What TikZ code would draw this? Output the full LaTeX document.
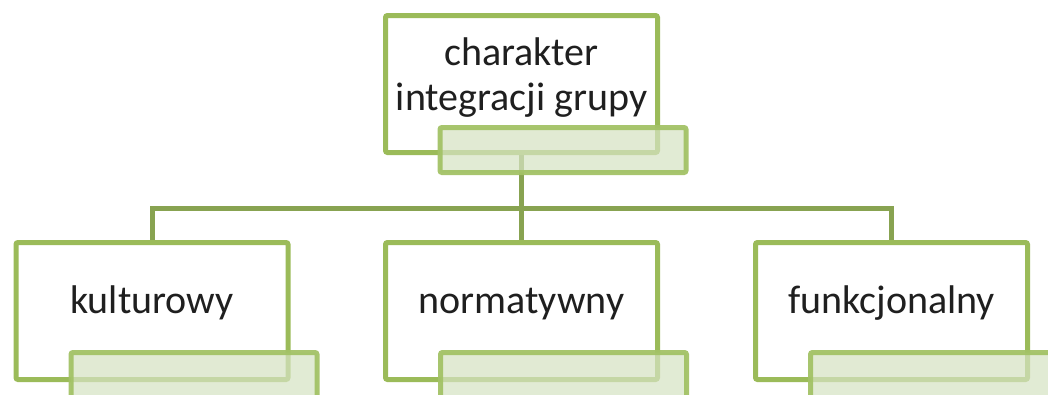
\documentclass[tikz,border=0pt]{standalone}
\usepackage{fontspec}
\setmainfont{Carlito}
\usetikzlibrary{backgrounds}
\definecolor{boxgreen}{HTML}{9BBB59}
\definecolor{linkgreen}{HTML}{88A351}
\definecolor{ovgreen}{HTML}{A3C266}
\definecolor{ovfill}{HTML}{D6E3C3}
\tikzset{
 box/.style={draw=boxgreen, line width=5pt, fill=white, rounded corners=2pt, minimum width=272pt, minimum height=137pt, inner sep=0pt},
 ov/.style={draw=ovgreen, line width=5pt, fill=ovfill, fill opacity=0.72, draw opacity=0.95, rounded corners=2pt, minimum width=246pt, minimum height=45pt, inner sep=0pt},
 link/.style={draw=linkgreen, line width=5pt},
 lbl/.style={font=\fontsize{40}{45}\selectfont, text=black!88, align=center, inner sep=0pt}
}
\begin{document}
\begin{tikzpicture}[x=1pt,y=-1pt]
\useasboundingbox (0,0) rectangle (1048,394);
\clip (0,0) rectangle (1048,394);
\coordinate (hub) at (521.5,208);
\node[box] (top) at (521.5,84) {};
\node[box] (kul) at (152,311) {};
\node[box] (nor) at (521.5,311) {};
\node[box] (fun) at (891.5,311) {};
\begin{scope}[on background layer]
\draw[link] (top.south) -- (hub);
\draw[link] (hub) -| (kul.north);
\draw[link] (hub) -| (fun.north);
\draw[link] (hub) -- (nor.north);
\end{scope}
% overlays
\node[ov] (topov) at ([shift={(41.5,66)}]top.center) {};
\node[ov] (kulov) at ([shift={(42,64)}]kul.center) {};
\node[ov] (norov) at ([shift={(42,64)}]nor.center) {};
\node[ov] (funov) at ([shift={(42,64)}]fun.center) {};
% labels
\node[lbl, anchor=base] (toptext) at (521.5,110) {charakter\\integracji grupy};
\node[lbl, anchor=base] (kultext) at (152,313) {kulturowy};
\node[lbl, anchor=base] (nortext) at (521.5,313) {normatywny};
\node[lbl, anchor=base] (funtext) at (891.5,313) {funkcjonalny};
\end{tikzpicture}
\end{document}
